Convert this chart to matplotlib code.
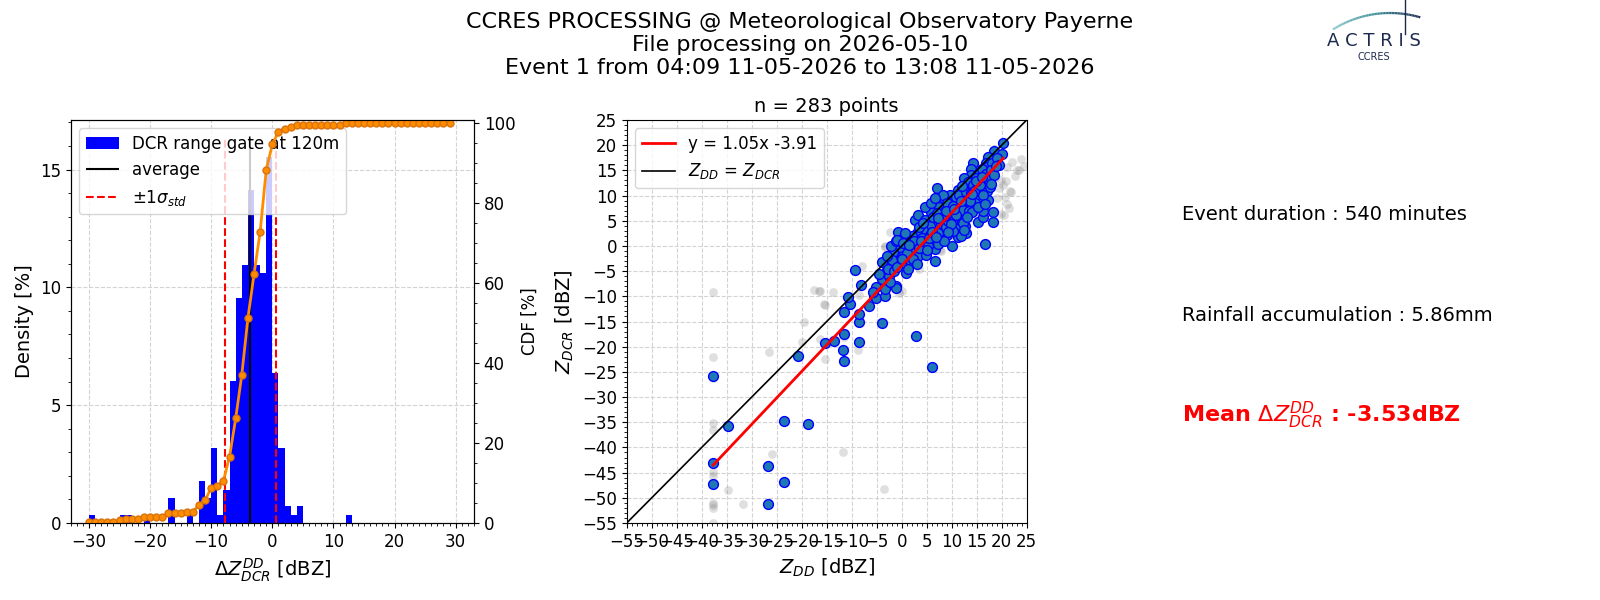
import matplotlib
matplotlib.use("Agg")
import matplotlib.pyplot as plt
import numpy as np
from matplotlib.ticker import MultipleLocator
from matplotlib.collections import LineCollection
from matplotlib.colors import LinearSegmentedColormap

# histogram of delta Z (DCR - DD), 1 dB bins, left edges -30 .. 29
bin_edges = np.arange(-30, 31, 1)
counts = [1, 0, 0, 0, 0, 1, 1, 0, 0, 1,
          0, 0, 0, 3, 0, 0, 1, 0, 5, 3,
          9, 1, 4, 17, 27, 31, 40, 31, 30, 44,
          18, 9, 2, 1, 2, 0, 0, 0, 0, 0,
          0, 0, 1, 0, 0, 0, 0, 0, 0, 0,
          0, 0, 0, 0, 0, 0, 0, 0, 0, 0]
dz_mean = -3.6
dz_std = 4.2

# scatter: Z_DD (x) vs Z_DCR (y), kept points
z_dd = [-37.7, -37.7, -37.7, -34.75, -26.8, -26.8, -23.5, -23.6, -18.7, -20.7,
        -15.4, -13.6, -11.8, -11.5, -11.5, -11.5, -10.3, -10.8, -8.6, -8.6,
        -8.6, -9.4, -8.2, -6.6, -5.6, -5.2, -5.1, -3.9, -3.3, -3.9,
        -3.9, -3.0, -1.2, -1.2, 2.85, 6.0, 6.7, 10.0, 16.6, 15.25,
        18.2, 16.2, 18.2, 16.2, 7.1, 2.7, -0.8, 11.3, 12.9, 11.3,
        20.3, 18.5, 20.1, 14.3, 13.8, 17.0, 15.5,
        -5.7, -3.4, -2.6, -2.7, -1.5, -0.7, 0.9, 0.9, 0.3, 1.9,
        2.1, 3.2, 2.9, -0.4, -1.7, -2.1, -1.2, 0.5, 4.4, 4.6,
        5.9, 6.7, 8.2, 7.5, 9.5,
        18.8, 17.3, 16.9, 13.9, 15.5, 17.1, 18.0, 15.2, 16.5, 17.3,
        13.9, 12.5, 11.2, 12.5, 13.9, 13.4, 12.5, 11.6, 10.6, 9.6,
        8.6, 8.2, 7.5, 8.7, 10.0, 11.6, 12.9, 11.2, 12.7, 11.9,
        9.1, 7.9, 6.7, 5.9, 4.6, 5.8, 6.6, 3.3, 4.6, 5.6,
        4.3, 3.0, 2.0, 4.0, 5.6, 7.3, 6.3, 7.3, 8.4, 0.6,
        -1.0, 0.3, 2.5,
        1.0, 1.5, 2.3, 3.5, 3.8, 4.8, 5.2, 5.5, 6.0, 6.8,
        7.8, 8.0, 8.8, 9.2, 9.8, 10.3, 10.5, 10.8, 11.0, 11.5,
        12.0, 12.2, 12.8, 13.2, 13.5, 13.8, 14.2, 14.6, 14.8, 15.0,
        15.8, 16.0, 16.3, 16.8, 17.5, 17.8, 18.5, 19.0, 19.5, -2.0,
        -1.0, 0.0, -3.0, -2.4, -4.5, 1.2, 3.0, 3.5, 4.2, 5.0,
        6.2, 7.0, 8.4, 9.0, 9.5, 10.2, 12.0, 13.0, 14.0, 15.2,
        10.8, 12.2, 13.6, 14.4, 15.6, 16.6, 17.6, 14.9, 13.1, 11.8,
        9.9, 8.9, 7.2, 16.1, 17.9, 18.9, 14.1, 12.4, 10.4, 9.3]
z_dcr = [-25.9, -43.1, -47.2, -35.7, -43.6, -51.2, -34.8, -46.9, -35.4, -21.8,
         -19.3, -18.8, -20.75, -22.8, -17.4, -13.2, -11.6, -10.2, -19.0, -15.1,
         -13.5, -4.75, -7.7, -11.9, -10.0, -8.2, -10.4, -15.3, -9.9, -6.5,
         -3.1, -4.75, -7.9, -8.4, -17.8, -24.1, -3.0, 0.0, 0.3, 4.7,
         4.8, 5.7, 6.7, 7.0, 11.45, 5.2, 2.7, 1.7, 2.5, 3.5,
         20.4, 18.9, 18.2, 16.5, 15.2, 10.9, 9.7,
         -9.1, -8.6, -6.0, -4.5, -5.0, -3.0, -5.3, -3.6, -1.9, -3.2,
         -1.0, -2.0, 0.3, -0.3, -1.3, 0.0, 1.0, 1.7, -0.7, 1.0,
         0.7, -0.7, 1.3, 3.0, 4.0,
         17.0, 17.7, 16.4, 14.1, 14.4, 15.6, 16.4, 12.8, 12.4, 9.1,
         11.8, 13.4, 11.1, 9.8, 9.5, 8.2, 8.5, 7.8, 8.8, 10.1,
         9.1, 10.1, 7.8, 7.0, 6.4, 5.9, 6.2, 4.1, 3.9, 1.9,
         2.2, 3.2, 4.5, 6.8, 7.7, 8.6, 9.5, 6.2, 5.2, 3.9,
         3.2, 2.6, 1.9, 1.6, 2.2, 2.6, 0.9, 0.3, 0.9, 2.6,
         1.25, 0.6, 0.9,
         -1.5, 0.2, -2.5, -0.5, 1.0, -1.8, 0.0, 1.5, 2.8, 1.8,
         4.6, 5.5, 3.8, 5.0, 7.8, 3.0, 5.2, 9.8, 7.0, 10.2,
         5.0, 7.2, 10.8, 12.6, 7.0, 10.5, 12.0, 8.6, 13.5, 11.0,
         13.3, 15.2, 10.2, 14.2, 13.0, 15.0, 14.0, 17.5, 16.0, -2.8,
         -4.2, -2.5, -2.0, -7.2, -5.5, -4.5, -3.5, 3.8, 4.6, -0.8,
         5.8, 6.5, 6.0, 8.5, 6.8, 8.0, 11.8, 9.2, 6.8, 7.8,
         6.1, 4.6, 8.9, 10.9, 12.1, 8.3, 11.7, 12.9, 5.7, 8.9,
         4.4, 6.9, 5.6, 13.6, 12.3, 15.8, 10.3, 3.1, 7.4, 2.8]

# rejected points (grey)
rej_dd = [-37.7, -37.7, -37.7, -37.7, -37.7, -37.7, -37.7, -37.7, -37.7, -37.7,
          -37.7, -34.75, -31.8, -26.0, -26.5, -19.6, -20.0, -17.6, -16.6, -15.3,
          -13.8, -16.3, -15.3, -11.7, -8.7, -3.55, -8.0, -3.4, -2.4, -0.45,
          3.4, 7.6, 19.0, 19.8, 21.6, 20.6, 21.5, 20.5, 18.7, 22.0,
          23.0, 21.1, 19.0, 20.3, 23.5, 20.8, 21.8, 19.8, -3.3, 24.5,
          -16.3, -15.6, 0.0, 7.9, -11.5, -8.6, 22.6, 21.0, 19.4, 23.9]
rej_dcr = [-9.2, -22.1, -26.3, -35.2, -36.5, -44.8, -45.7, -51.0, -51.5, -52.0,
           -55.0, -48.4, -51.2, -41.4, -21.1, -15.1, -19.0, -8.7, -9.0, -11.7,
           -9.2, -18.5, -22.5, -40.9, -20.75, -48.2, -4.0, -0.3, 2.85, -9.25,
           -4.6, -0.8, 9.5, 13.1, 10.9, 9.7, 7.5, 6.2, 13.4, 16.7,
           15.1, 15.7, 16.4, 12.1, 15.1, 12.8, 10.8, 6.4, 0.0, 15.8,
           -8.9, -11.6, -8.9, -1.0, -18.0, -9.8, 13.9, 8.4, 11.5, 17.2]

fit_slope = 1.05
fit_offset = -3.91
n_points = 283

title_lines = ["CCRES PROCESSING @ Meteorological Observatory Payerne",
               "File processing on 2026-05-10",
               "Event 1 from 04:09 11-05-2026 to 13:08 11-05-2026"]
event_duration = 540
rain_acc = 5.86
mean_dz = -3.53

W, H = 1600, 600
fig = plt.figure(figsize=(16, 6), dpi=100)
fig.suptitle("\n".join(title_lines), fontsize=16, y=0.98)

# ---- histogram + CDF
ax1 = fig.add_axes([70.7 / W, 77 / H, 403.3 / W, 403 / H])
counts = np.array(counts)
density = counts / counts.sum() * 100
h_bar = ax1.bar(bin_edges[:-1], density, width=1, align="edge", color="blue",
                label="DCR range gate at 120m")
top = density.max()
h_avg = ax1.vlines(dz_mean, 0, 1.05 * top, color="black", lw=1.5, label="average")
h_std = ax1.vlines([dz_mean - dz_std, dz_mean + dz_std], 0, 1.05 * top, color="red",
                   ls="--", lw=1.5, label=r"$\pm1\sigma_{std}$")
ax1.set_xlim(-33, 33)
ax1.set_ylim(0, 1.1 * top)
ax1.xaxis.set_major_locator(MultipleLocator(10))
ax1.xaxis.set_minor_locator(MultipleLocator(1))
ax1.yaxis.set_major_locator(MultipleLocator(5))
ax1.yaxis.set_minor_locator(MultipleLocator(1))
ax1.grid(ls="--", color="lightgray", lw=0.8)
ax1.set_axisbelow(True)
ax1.tick_params(labelsize=12)
ax1.set_xlabel(r"$\Delta Z^{DD}_{DCR}$ [dBZ]", fontsize=14)
ax1.set_ylabel("Density [%]", fontsize=14)
ax1.legend(handles=[h_bar, h_avg, h_std], loc="upper left", fontsize=12)

ax1b = ax1.twinx()
cdf = np.cumsum(counts) / counts.sum() * 100
ax1b.plot(bin_edges[:-1], cdf, color="darkorange", marker="o", ms=5,
          mec="#d9730d", lw=2)
ax1b.set_ylim(0, 100.8)
ax1b.yaxis.set_major_locator(MultipleLocator(20))
ax1b.yaxis.set_minor_locator(MultipleLocator(5))
ax1b.tick_params(labelsize=12)
ax1b.set_ylabel("CDF [%]", fontsize=12)

# ---- scatter
ax2 = fig.add_axes([626.7 / W, 77 / H, 400 / W, 403 / H])
ax2.scatter(rej_dd, rej_dcr, s=40, color="gray", alpha=0.25, lw=0)
ax2.scatter(z_dd, z_dcr, s=50, color="#1f77b4", edgecolors="blue", lw=1, zorder=3)
xf = np.array([min(z_dd), max(z_dd)])
ax2.plot(xf, fit_slope * xf + fit_offset, color="red", lw=2, zorder=4,
         label=f"y = {fit_slope:.2f}x {fit_offset:.2f}")
ax2.plot([-55, 25], [-55, 25], color="black", lw=1.2, zorder=4,
         label=r"$Z_{DD}$ = $Z_{DCR}$")
ax2.set_xlim(-55, 25)
ax2.set_ylim(-55, 25)
for axis in (ax2.xaxis, ax2.yaxis):
    axis.set_major_locator(MultipleLocator(5))
    axis.set_minor_locator(MultipleLocator(1))
ax2.grid(ls="--", color="lightgray", lw=0.8)
ax2.set_axisbelow(True)
ax2.tick_params(labelsize=12)
ax2.set_xlabel(r"$Z_{DD}$ [dBZ]", fontsize=14)
ax2.set_ylabel(r"$Z_{DCR}$ [dBZ]", fontsize=14)
ax2.set_title(f"n = {n_points} points", fontsize=14)
ax2.legend(loc="upper left", fontsize=12)

# ---- side texts
fig.text(1182 / W, 1 - 214 / H, f"Event duration : {event_duration} minutes",
         fontsize=14, va="center")
fig.text(1182 / W, 1 - 316 / H, f"Rainfall accumulation : {rain_acc}mm",
         fontsize=14, va="center")
fig.text(1182 / W, 1 - 415 / H, r"Mean $\Delta Z^{DD}_{DCR}$ : " + f"{mean_dz}dBZ",
         fontsize=16, va="center", color="red", fontweight="bold")

# ---- logo
lg = fig.add_axes([1300 / W, 1 - 75 / H, 130 / W, 75 / H])
lg.set_xlim(1300, 1430)
lg.set_ylim(75, 0)
lg.axis("off")
th = np.linspace(np.arctan2(-90.7, -57), np.arctan2(-101.7, 30), 60)
px = 1390 + 107 * np.cos(th)
py = 120 + 107 * np.sin(th)
segs = np.stack([np.column_stack([px[:-1], py[:-1]]),
                 np.column_stack([px[1:], py[1:]])], axis=1)
cm = LinearSegmentedColormap.from_list("logo", ["#8ccaca", "#3f8f9a", "#1b2a4e"])
lc = LineCollection(segs, cmap=cm, lw=1.6)
lc.set_array(np.linspace(0, 1, len(segs)))
lg.add_collection(lc)
lg.plot([1405, 1405], [0, 34], color="#1b2a4e", lw=1)
lg.text(1374, 41, "A C T R I S", fontsize=13, color="#1b2a4e",
        ha="center", va="center")
lg.text(1374, 57, "CCRES", fontsize=7, color="#1b2a4e", ha="center", va="center")

fig.savefig("out.png", dpi=100)
